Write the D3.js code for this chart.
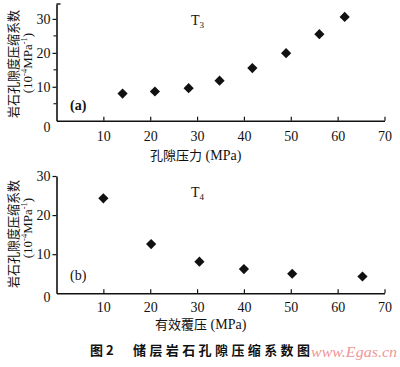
<!DOCTYPE html>
<html><head><meta charset="utf-8">
<script src="https://cdn.jsdelivr.net/npm/d3@7"></script>
<style>
html,body{margin:0;padding:0;background:#fff;}
svg{display:block;}
</style></head>
<body>
<svg id="c" width="400" height="367"></svg>
<script>
// Data
const xTicks = [10, 20, 30, 40, 50, 60, 70];
const yTicksA = [0, 10, 20, 30];
const yMinorA = [5, 15, 25];
const yTicksB = [0, 10, 20, 30];
const poreP = [14.1, 21.0, 28.2, 34.8, 41.8, 49.0, 56.1, 61.5];   // (a) 孔隙压力 MPa
const coefA = [8.0, 8.6, 9.6, 11.8, 15.5, 19.9, 25.5, 30.6];       // T3
const effP  = [10.0, 20.2, 30.5, 40.0, 50.3, 65.3];                 // (b) 有效覆压 MPa
const coefB = [24.3, 12.6, 8.1, 6.2, 5.0, 4.3];                     // T4

const svg = d3.select("#c");
const ink = "#111";
const serif = "Liberation Serif, Times New Roman, Tinos, DejaVu Serif, Noto Serif, serif";
const cjk = "Noto Sans CJK SC, Noto Sans, sans-serif";

function panel(cfg){
  const x = d3.scaleLinear().domain([0,70]).range([56.5,384.5]);
  const y = d3.scaleLinear().domain([0,cfg.ymax]).range([cfg.y0,cfg.ytop]);
  const g = svg.append("g");

  // x axis
  const xa = g.append("g").attr("transform",`translate(0,${cfg.y0})`)
    .call(d3.axisBottom(x).tickValues(xTicks).tickSizeInner(-4).tickSizeOuter(0).tickPadding(cfg.xpad));
  xa.attr("font-family",serif).attr("font-size",14);
  xa.select(".domain").attr("stroke",ink).attr("stroke-width",1.6);
  xa.selectAll(".tick line").attr("stroke",ink).attr("stroke-width",1.2);
  xa.selectAll(".tick text").attr("fill",ink);

  // y axis
  const ya = g.append("g").attr("transform",`translate(56.5,0)`)
    .call(d3.axisLeft(y).tickValues(cfg.yticks).tickSizeInner(4).tickSizeOuter(0).tickPadding(2));
  ya.attr("font-family",serif).attr("font-size",14);
  ya.select(".domain").attr("stroke",ink).attr("stroke-width",1.6);
  ya.selectAll(".tick line").attr("stroke",ink).attr("stroke-width",1.2);
  ya.selectAll(".tick text").attr("fill",ink);
  ya.selectAll(".tick").filter(d=>d===0).select("line").remove();
  ya.selectAll(".tick").filter(d=>d===0).select("text").attr("dy",cfg.zeroDy).attr("x",-6);
  if(cfg.minor){
    ya.selectAll(".minor").data(cfg.minor).join("line").attr("class","minor")
      .attr("x1",-3).attr("x2",0).attr("y1",d=>y(d)).attr("y2",d=>y(d))
      .attr("stroke",ink).attr("stroke-width",1.1);
  }
  if(cfg.topTick){
    ya.append("line").attr("x1",0).attr("x2",4).attr("y1",y(cfg.ymax)).attr("y2",y(cfg.ymax))
      .attr("stroke",ink).attr("stroke-width",1.4);
  }

  // points
  const sym = d3.symbol(d3.symbolSquare, 52)();
  g.selectAll(".pt").data(cfg.xs).join("path").attr("class","pt")
    .attr("d",sym)
    .attr("transform",(d,i)=>`translate(${x(d)},${y(cfg.ys[i])}) rotate(45)`)
    .attr("fill",ink);

  // series label T3/T4
  const t = g.append("text").attr("x",191).attr("y",cfg.tY)
    .attr("font-family",serif).attr("font-size",14).attr("fill",ink);
  t.append("tspan").text("T");
  t.append("tspan").attr("font-size",9).attr("dy",3).text(cfg.sub);

  // panel letter
  g.append("text").attr("x",70).attr("y",cfg.letterY)
    .attr("font-family",serif).attr("font-size",14).attr("font-weight",cfg.bold?"bold":"normal")
    .attr("fill",ink).text(cfg.letter);

  // x title
  const xt = g.append("text").attr("x",cfg.xtX).attr("y",cfg.xtY).attr("fill",ink);
  xt.append("tspan").attr("font-family",cjk).attr("font-size",13).text(cfg.xtitle);
  xt.append("tspan").attr("font-family",serif).attr("font-size",14).text(" (MPa)");

  // y title (two lines, rotated)
  g.append("text").attr("transform",`translate(18,${cfg.yl1})rotate(-90)`)
    .attr("text-anchor","middle").attr("font-family",cjk).attr("font-size",13).attr("fill",ink)
    .attr("textLength",108).attr("lengthAdjust","spacingAndGlyphs")
    .text("岩石孔隙度压缩系数");
  const y2 = g.append("text").attr("transform",`translate(31.5,${cfg.yl2})rotate(-90)`)
    .attr("text-anchor","middle").attr("font-family",serif).attr("font-size",13).attr("fill",ink);
  y2.append("tspan").text("(10");
  y2.append("tspan").attr("font-size",8.5).attr("dy",-5).text("-4");
  y2.append("tspan").attr("dy",5).text("MPa");
  y2.append("tspan").attr("font-size",8.5).attr("dy",-5).text("-1");
  y2.append("tspan").attr("dy",5).text(")");
}

panel({ymax:34.4, y0:120.7, ytop:4, yticks:yTicksA, minor:yMinorA, topTick:true,
  xpad:10, zeroDy:"0.75em", xs:poreP, ys:coefA, sub:"3", tY:25, letter:"(a)", letterY:110, bold:true,
  xtitle:"孔隙压力", xtX:150, xtY:160, yl1:64, yl2:63});

panel({ymax:30, y0:293.3, ytop:176, yticks:yTicksB, minor:null, topTick:false,
  xpad:9, zeroDy:"0.6em", xs:effP, ys:coefB, sub:"4", tY:197, letter:"(b)", letterY:280, bold:false,
  xtitle:"有效覆压", xtX:155, xtY:329, yl1:234, yl2:228});

// caption
svg.append("text").attr("x",90).attr("y",355).attr("font-family",cjk).attr("font-size",13)
  .attr("font-weight","bold").attr("fill",ink).text("图 2");
svg.append("text").attr("x",133).attr("y",355).attr("font-family",cjk).attr("font-size",13)
  .attr("font-weight","bold").attr("fill",ink).attr("textLength",177).attr("lengthAdjust","spacing")
  .text("储层岩石孔隙压缩系数图");
// watermark
svg.append("text").attr("x",311).attr("y",357).attr("font-family",serif).attr("font-style","italic")
  .attr("font-size",15).attr("fill","#ee8c8c").attr("opacity",0.9)
  .attr("textLength",86).attr("lengthAdjust","spacingAndGlyphs").text("www.Egas.cn");
</script>
</body></html>
